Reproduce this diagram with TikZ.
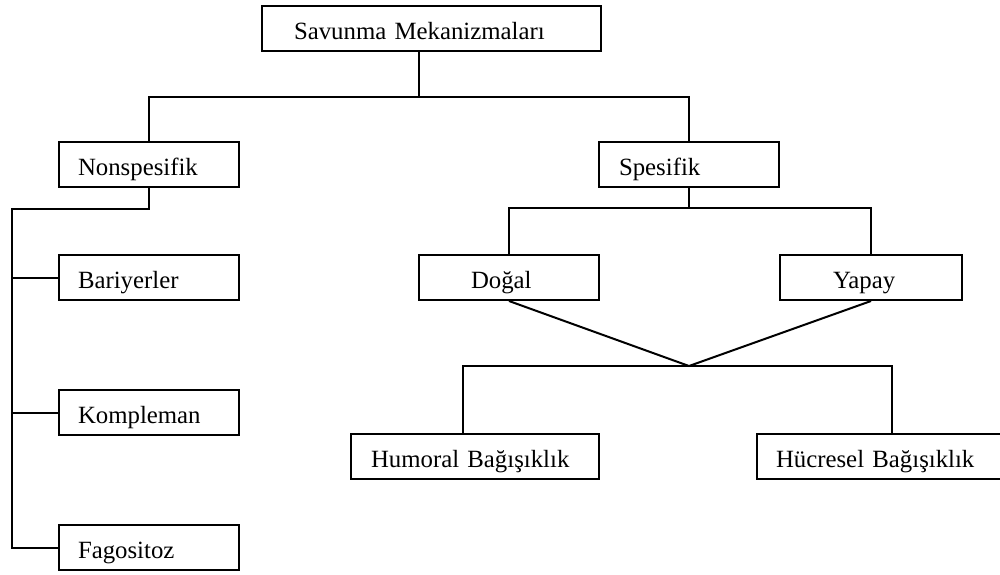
\documentclass[tikz,border=0pt]{standalone}
\usepackage{fontspec}
\setmainfont{Liberation Serif}
\usepackage{tikz}

\begin{document}
\begin{tikzpicture}[x=0.5pt, y=-0.5pt, line width=1pt,
    kutu/.style={draw, anchor=north west, align=left, inner ysep=2.5pt,
        text height=14pt, text depth=3.5pt, font=\fontsize{12.4}{15}\selectfont}]

    \useasboundingbox (0, 0) rectangle (1000, 574);

    \node[kutu, text width=137.5pt, inner xsep=16pt] (savunma) at (261, 5) {Savunma Mekanizmaları};

    \node[kutu, text width=71pt, inner xsep=9.5pt] (nonspesifik) at (58, 141) {Nonspesifik};
    \node[kutu, text width=70pt, inner xsep=10pt] (spesifik) at (598, 141) {Spesifik};

    \node[kutu, text width=71pt, inner xsep=9.5pt] (bariyerler) at (58, 254) {Bariyerler};
    \node[kutu, text width=71pt, inner xsep=9.5pt] (kompleman) at (58, 389) {Kompleman};
    \node[kutu, text width=71pt, inner xsep=9.5pt] (fagositoz) at (58, 524) {Fagositoz};

    \node[kutu, text width=38pt, inner xsep=26pt] (dogal) at (418, 254) {Doğal};
    \node[kutu, text width=38pt, inner xsep=26.5pt] (yapay) at (779, 254) {Yapay};

    \node[kutu, text width=104pt, inner xsep=10pt] (humoral) at (350, 433) {Humoral Bağışıklık};
    \node[kutu, text width=104pt, inner xsep=9.5pt] (hucresel) at (756, 433) {Hücresel Bağışıklık};

    \coordinate (kok) at (419, 97);
    \coordinate (sol) at (12, 209);
    \coordinate (sag) at (688, 208);
    \coordinate (tepe) at (689, 366);
    \coordinate (hsol) at (463, 366);
    \coordinate (hsag) at (892, 366);

    \draw (savunma.south -| kok) -- (kok);
    \draw (nonspesifik.north) |- (kok) -| (spesifik.north);

    \draw (nonspesifik.south) |- (sol) |- (fagositoz.west);
    \draw (sol |- bariyerler.west) -- (bariyerler.west);
    \draw (sol |- kompleman.west) -- (kompleman.west);

    \draw (spesifik.south) -- (spesifik.south |- sag);
    \draw (dogal.north) |- (sag) -| (yapay.north);

    \draw (dogal.south) -- (tepe) -- (yapay.south);
    \draw (humoral.north -| hsol) -- (hsol) -- (hsag) -- (hucresel.north -| hsag);

\end{tikzpicture}
\end{document}
